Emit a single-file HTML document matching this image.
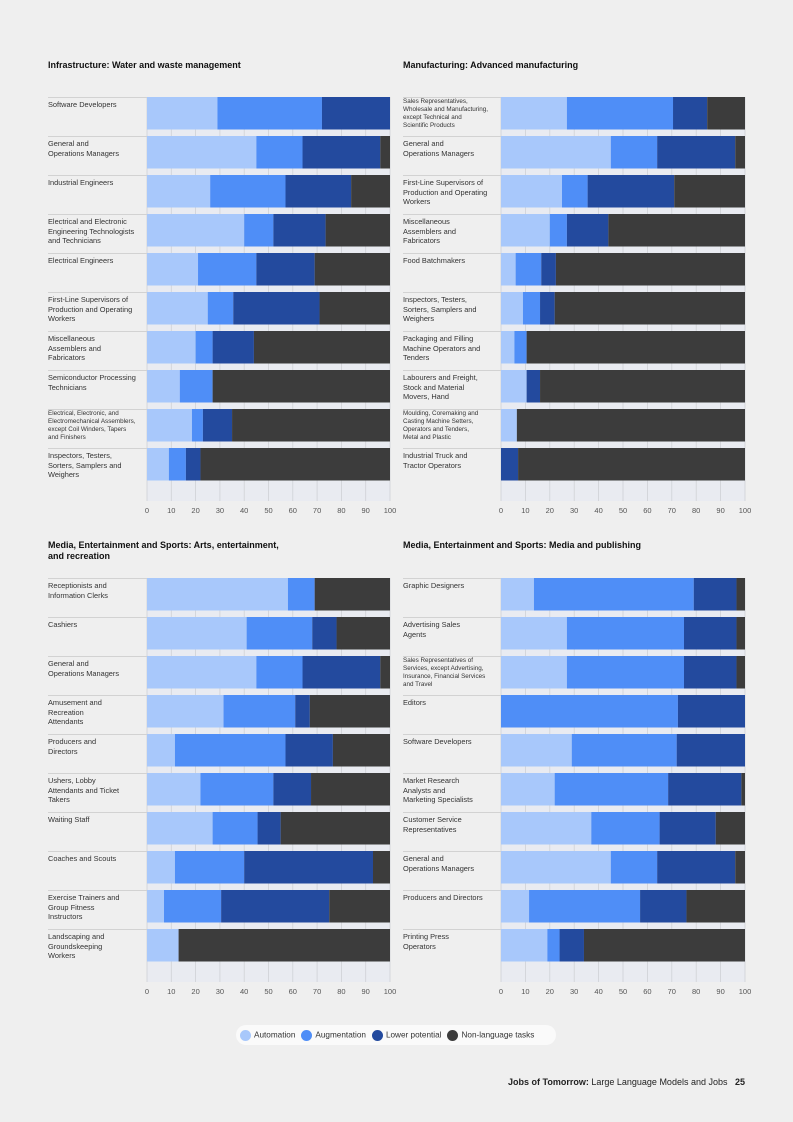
<!DOCTYPE html>
<html><head><meta charset="utf-8"><style>
body{margin:0;background:#efefef;font-family:"Liberation Sans","Noto Sans CJK SC",sans-serif;}
#wrap{position:relative;width:793px;height:1122px;overflow:hidden;background:#efefef;}
.title{position:absolute;font-size:9px;font-weight:bold;color:#111;line-height:11px;}
.lbl{position:absolute;font-size:7.4px;color:#333;line-height:9.6px;width:98px;}
.lbl.s{font-size:6.3px;line-height:8px;}
.rowline{position:absolute;height:1px;background:#d2d2d2;}
.tick{position:absolute;font-size:7.5px;color:#555;width:20px;text-align:center;}
#legend{position:absolute;left:236px;top:1025px;width:320px;height:20px;background:#fafafa;border-radius:10px;font-size:8.2px;color:#333;display:flex;align-items:center;gap:6px;padding-left:4px;box-sizing:border-box;}
.dot{display:inline-block;width:11px;height:11px;border-radius:50%;vertical-align:middle;margin-right:3px;}
#footer{position:absolute;right:48px;top:1077px;font-size:9px;color:#222;}
</style></head><body>
<div id="wrap">
<svg id="plots" width="793" height="1122" style="position:absolute;left:0;top:0"></svg>
<div id="legend">
<span><span class="dot" style="background:#a8c8fb"></span>Automation</span>
<span><span class="dot" style="background:#4f8ef7"></span>Augmentation</span>
<span><span class="dot" style="background:#234a9e"></span>Lower potential</span>
<span><span class="dot" style="background:#3c3c3c"></span>Non-language tasks</span>
</div>
<div id="footer"><b>Jobs of Tomorrow:</b> Large Language Models and Jobs &nbsp;&nbsp;<b>25</b></div>
</div>
<script>
const seriesColors=["#a8c8fb","#4f8ef7","#234a9e","#3c3c3c"];
const ticks=[0,10,20,30,40,50,60,70,80,90,100];
const p1Title="Infrastructure: Water and waste management";
const p1Cats=["Software Developers","General and|Operations Managers","Industrial Engineers","Electrical and Electronic|Engineering Technologists|and Technicians","Electrical Engineers","First-Line Supervisors of|Production and Operating|Workers","Miscellaneous|Assemblers and|Fabricators","Semiconductor Processing|Technicians","*Electrical, Electronic, and|Electromechanical Assemblers,|except Coil Winders, Tapers|and Finishers","Inspectors, Testers,|Sorters, Samplers and|Weighers"];
const p1Auto=[29,45,26,40,21,25,20,13.5,18.5,9];
const p1Aug=[43,19,31,12,24,10.5,7,13.5,4.5,7];
const p1Low=[28,32,27,21.5,24,35.5,17,0,12,6];
const p1Non=[0,4,16,26.5,31,29,56,73,65,78];
const p2Title="Manufacturing: Advanced manufacturing";
const p2Cats=["*Sales Representatives,|Wholesale and Manufacturing,|except Technical and|Scientific Products","General and|Operations Managers","First-Line Supervisors of|Production and Operating|Workers","Miscellaneous|Assemblers and|Fabricators","Food Batchmakers","Inspectors, Testers,|Sorters, Samplers and|Weighers","Packaging and Filling|Machine Operators and|Tenders","Labourers and Freight,|Stock and Material|Movers, Hand","*Moulding, Coremaking and|Casting Machine Setters,|Operators and Tenders,|Metal and Plastic","Industrial Truck and|Tractor Operators"];
const p2Auto=[27,45,25,20,6,9,5.5,10.5,6.5,0];
const p2Aug=[43.5,19,10.5,7,10.5,7,5,0,0,0];
const p2Low=[14,32,35.5,17,6,6,0,5.5,0,7];
const p2Non=[15.5,4,29,56,77.5,78,89.5,84,93.5,93];
const p3Title="Media, Entertainment and Sports: Arts, entertainment,|and recreation";
const p3Cats=["Receptionists and|Information Clerks","Cashiers","General and|Operations Managers","Amusement and|Recreation|Attendants","Producers and|Directors","Ushers, Lobby|Attendants and Ticket|Takers","Waiting Staff","Coaches and Scouts","Exercise Trainers and|Group Fitness|Instructors","Landscaping and|Groundskeeping|Workers"];
const p3Auto=[58,41,45,31.5,11.5,22,27,11.5,7,13];
const p3Aug=[11,27,19,29.5,45.5,30,18.5,28.5,23.5,0];
const p3Low=[0,10,32,6,19.5,15.5,9.5,53,44.5,0];
const p3Non=[31,22,4,33,23.5,32.5,45,7,25,87];
const p4Title="Media, Entertainment and Sports: Media and publishing";
const p4Cats=["Graphic Designers","Advertising Sales|Agents","*Sales Representatives of|Services, except Advertising,|Insurance, Financial Services|and Travel","Editors","Software Developers","Market Research|Analysts and|Marketing Specialists","Customer Service|Representatives","General and|Operations Managers","Producers and Directors","Printing Press|Operators"];
const p4Auto=[13.5,27,27,0,29,22,37,45,11.5,19];
const p4Aug=[65.5,48,48,72.5,43,46.5,28,19,45.5,5];
const p4Low=[17.5,21.5,21.5,27.5,28,30,23,32,19,10];
const p4Non=[3.5,3.5,3.5,0,0,1.5,12,4,24,66];

const panels=[
 {name:"water-waste",title:p1Title,cats:p1Cats,s:[p1Auto,p1Aug,p1Low,p1Non],lx:48,px:147,pw:243,ty:60,ry:97},
 {name:"advanced-manufacturing",title:p2Title,cats:p2Cats,s:[p2Auto,p2Aug,p2Low,p2Non],lx:403,px:501,pw:244,ty:60,ry:97},
 {name:"arts-entertainment",title:p3Title,cats:p3Cats,s:[p3Auto,p3Aug,p3Low,p3Non],lx:48,px:147,pw:243,ty:540,ry:578},
 {name:"media-publishing",title:p4Title,cats:p4Cats,s:[p4Auto,p4Aug,p4Low,p4Non],lx:403,px:501,pw:244,ty:540,ry:578}
];
const NS="http://www.w3.org/2000/svg";
const svg=document.getElementById('plots');
const wrap=document.getElementById('wrap');
const PITCH=39, BH=32.5;
panels.forEach(p=>{
  const xs=v=>p.px+v/100*p.pw;
  const t=document.createElement('div');
  t.className='title';t.style.left=p.lx+'px';t.style.top=p.ty+'px';
  t.innerHTML=p.title.split('|').join('<br>');
  
  
  wrap.appendChild(t);
  const n=p.cats.length;
  const bottom=p.ry+n*PITCH+14;
  const bg=document.createElementNS(NS,'rect');
  bg.setAttribute('x',p.px);bg.setAttribute('y',p.ry);bg.setAttribute('width',p.pw);bg.setAttribute('height',bottom-p.ry);bg.setAttribute('fill','#e9ebf1');
  
  
  svg.appendChild(bg);
  ticks.forEach(v=>{
    const l=document.createElementNS(NS,'line');
    l.setAttribute('x1',xs(v));l.setAttribute('x2',xs(v));l.setAttribute('y1',p.ry);l.setAttribute('y2',bottom);
    l.setAttribute('stroke','#cfd1d6');l.setAttribute('stroke-width','0.8');
    
    
    svg.appendChild(l);
    const tk=document.createElement('div');
    tk.className='tick';tk.style.left=(xs(v)-10)+'px';tk.style.top=(bottom+5)+'px';tk.textContent=v;
    
    
    wrap.appendChild(tk);
  });
  p.cats.forEach((c,i)=>{
    const y=p.ry+i*PITCH;
    const rl=document.createElement('div');
    rl.className='rowline';rl.style.left=p.lx+'px';rl.style.width=(p.px-p.lx)+'px';rl.style.top=(y)+'px';
    
    
    wrap.appendChild(rl);
    const lb=document.createElement('div');
    const small=c.startsWith('*');
    lb.className='lbl'+(small?' s':'');
    lb.style.left=p.lx+'px';lb.style.top=(y+(small?1:3))+'px';
    lb.innerHTML=c.replace('*','').split('|').join('<br>');
    
    
    wrap.appendChild(lb);
    let acc=0;
    p.s.forEach((arr,k)=>{
      const v=arr[i];
      if(v>0){
        const r=document.createElementNS(NS,'rect');
        r.setAttribute('x',xs(acc));r.setAttribute('y',y);
        r.setAttribute('width',Math.max(0,xs(acc+v)-xs(acc)));r.setAttribute('height',BH);
        r.setAttribute('fill',seriesColors[k]);
        
        
        svg.appendChild(r);
      }
      acc+=v;
    });
  });
});
</script>
</body></html>
